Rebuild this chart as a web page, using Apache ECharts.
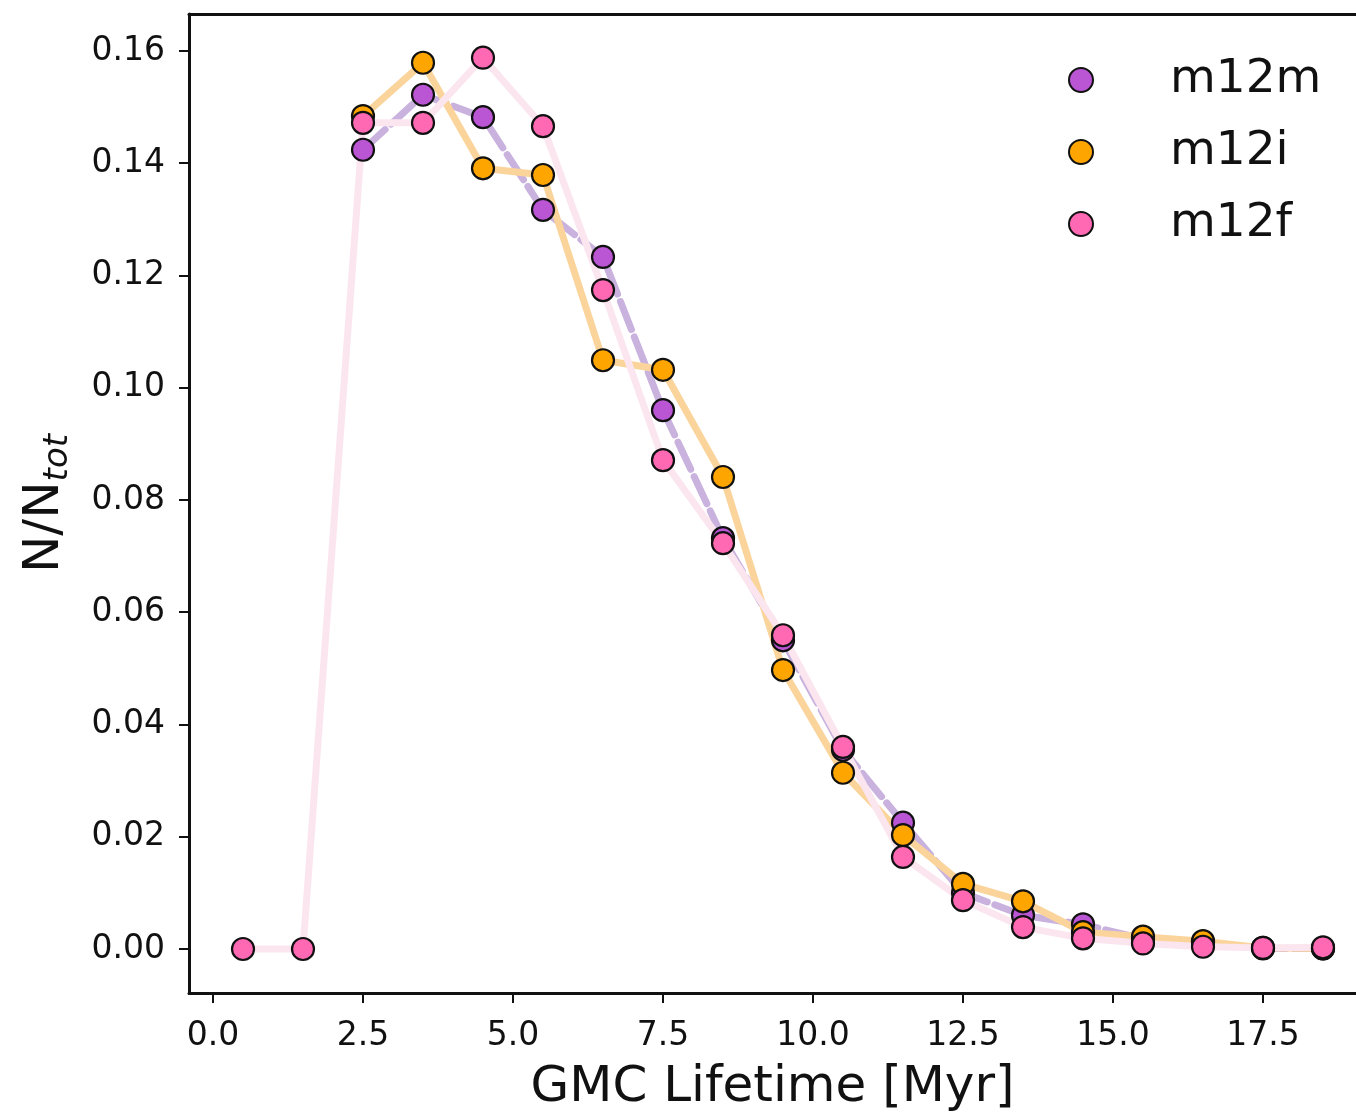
<!DOCTYPE html>
<html>
<head>
<meta charset="utf-8">
<script src="https://cdn.jsdelivr.net/npm/echarts@6/dist/echarts.min.js"></script>
<style>html,body{margin:0;padding:0;background:#fff}#c{width:1356px;height:1112px}</style>
</head>
<body>
<div id="c"></div>
<script>
// ---- data ----
const lifetimes = [0.5,1.5,2.5,3.5,4.5,5.5,6.5,7.5,8.5,9.5,10.5,11.5,12.5,13.5,14.5,15.5,16.5,17.5,18.5];
const m12m = [null,null,0.1424,0.1522,0.1482,0.1317,0.1233,0.0960,0.0732,0.0550,0.0355,0.0225,0.0100,0.0060,0.0044,0.0018,0.0012,0.0001,0.0001];
const m12i = [null,null,0.1484,0.1579,0.1391,0.1379,0.1049,0.1032,0.0841,0.0497,0.0314,0.0203,0.0116,0.0085,0.0030,0.0022,0.0014,0.0002,0.0001];
const m12f = [0,0,0.1472,0.1472,0.1588,0.1466,0.1174,0.0871,0.0723,0.0559,0.0360,0.0164,0.0087,0.0039,0.0019,0.0010,0.0004,0.0002,0.0003];
const xTicks = [0,2.5,5,7.5,10,12.5,15,17.5];
const yTicks = [0,0.02,0.04,0.06,0.08,0.10,0.12,0.14,0.16];
const seriesNames = ['m12m','m12i','m12f'];

function pairs(ys){ return lifetimes.map((x,i)=>[x, ys[i]]).filter(p=>p[1]!==null); }

const FONT = 'DejaVu Sans';
const chart = echarts.init(document.getElementById('c'), null, {renderer:'canvas'});

function mkSeries(name, ys, markerColor, lineColor, dashed){
  return {
    name, type:'line', data: pairs(ys), xAxisIndex:0, yAxisIndex:0,
    symbol:'circle', symbolSize:22,
    itemStyle:{color:markerColor, borderColor:'#111', borderWidth:2.2},
    lineStyle:{color:lineColor, width:7, type: dashed ? [30,8] : 'solid', cap:'round', join:'round'},
    emphasis:{disabled:true}, animation:false
  };
}

chart.setOption({
  backgroundColor:'#fff',
  animation:false,
  grid:{left:189, top:14, right:0, bottom:119, show:false, containLabel:false, outerBoundsMode:'none'},
  legend:{
    orient:'vertical', left:1068, top:52, padding:0,
    itemWidth:24, itemHeight:24, itemGap:16, icon:'circle',
    data: seriesNames,
    textStyle:{fontFamily:FONT, fontSize:47, color:'#111', lineHeight:56, padding:[0,0,0,72]}
  },
  xAxis:[{
    type:'value', min:-0.4, max:19.05,
    name:'GMC Lifetime [Myr]', nameLocation:'middle', nameGap:70,
    nameTextStyle:{fontFamily:FONT, fontSize:50, color:'#111'},
    axisLine:{show:true, onZero:false, lineStyle:{color:'#111', width:3}},
    axisTick:{show:true, length:10, lineStyle:{color:'#111', width:2}, customValues:xTicks},
    axisLabel:{fontFamily:FONT, fontSize:33, color:'#111', margin:27, customValues:xTicks,
      formatter:v=>v.toFixed(1)},
    splitLine:{show:false}
  },{
    type:'value', position:'top', min:-0.4, max:19.05,
    axisLine:{show:true, onZero:false, lineStyle:{color:'#111', width:3}},
    axisTick:{show:false}, axisLabel:{show:false}, splitLine:{show:false}
  }],
  yAxis:{
    type:'value', min:-0.00784, max:0.16659,
    name:'{a|N/N}{b|tot}', nameLocation:'middle', nameGap:114, nameRotate:90,
    nameTextStyle:{fontFamily:FONT, color:'#111',
      rich:{a:{fontFamily:FONT, fontSize:50, color:'#111', lineHeight:60},
            b:{fontFamily:FONT, fontSize:34, fontStyle:'italic', color:'#111', verticalAlign:'bottom', lineHeight:34, padding:[14,0,0,0]}}},
    axisLine:{show:true, onZero:false, lineStyle:{color:'#111', width:3}},
    axisTick:{show:true, length:10, lineStyle:{color:'#111', width:2}, customValues:yTicks},
    axisLabel:{fontFamily:FONT, fontSize:33, color:'#111', margin:24, customValues:yTicks,
      formatter:v=>v.toFixed(2)},
    splitLine:{show:false}
  },
  series:[
    mkSeries('m12m', m12m, '#BA55D3', '#C9B2DE', true),
    mkSeries('m12i', m12i, '#FFA500', '#FBD49C', false),
    mkSeries('m12f', m12f, '#FF69B4', '#FBE6F0', false)
  ]
});
</script>
</body>
</html>
